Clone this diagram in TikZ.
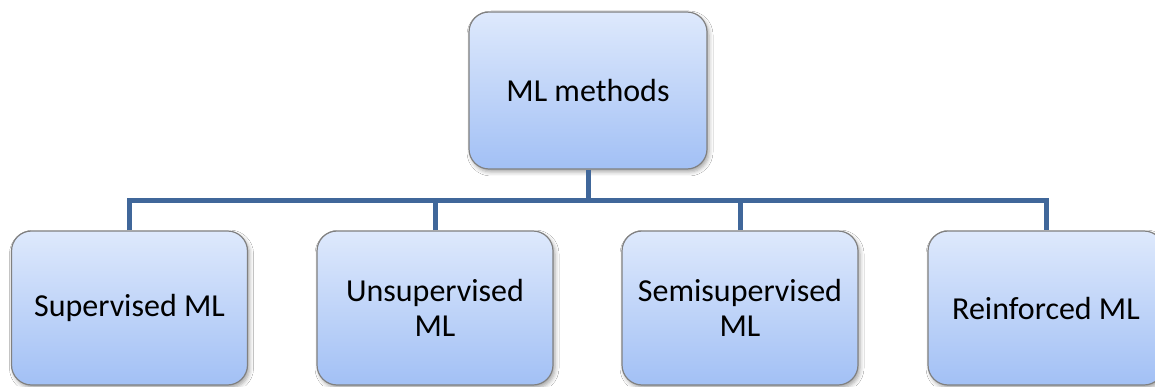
\documentclass[tikz,border=0pt]{standalone}
\usepackage{fontspec}
\setmainfont{Carlito}
\usetikzlibrary{shadows.blur}
\definecolor{boxtop}{RGB}{222,233,252}
\definecolor{boxbottom}{RGB}{162,192,245}
\definecolor{boxedge}{RGB}{128,128,128}
\definecolor{linkblue}{RGB}{64,103,154}
\tikzset{
  mlbox/.style={rectangle, rounded corners=20pt, draw=boxedge, line width=1.2pt,
    top color=boxtop, bottom color=boxbottom, inner sep=0pt, align=center,
    font=\fontsize{32}{35}\selectfont,
    blur shadow={shadow xshift=2pt, shadow yshift=-3pt, shadow blur radius=4pt, shadow opacity=35}},
  rootbox/.style={mlbox, minimum width=238pt, minimum height=157pt},
  leafbox/.style={mlbox, minimum width=236pt, minimum height=154pt},
  link/.style={draw=linkblue, line width=5pt, line join=miter}
}
\begin{document}
\begin{tikzpicture}[x=1pt, y=1pt]
  \useasboundingbox (0,0) rectangle (1155,386);
  \clip (0,0) rectangle (1155,386);
  \fill[white] (0,0) rectangle (1155,386);

  % bus level between the root and the four methods
  \coordinate (bus) at (588,186);

  \node[rootbox] (root) at (588,295.5) {ML methods};
  \node[leafbox] (sup)   at (129.5,78) {Supervised ML};
  \node[leafbox] (unsup) at (435,78)   {Unsupervised\\ML};
  \node[leafbox] (semi)  at (740,78)   {Semisupervised\\ML};
  \node[leafbox] (reinf) at (1046,78)  {Reinforced ML};

  % connectors: stem from the root, horizontal bus, drops to each method
  \draw[link] (root.south) -- (root.south |- bus);
  \draw[link] (sup.north) -- (sup.north |- bus) -- (reinf.north |- bus) -- (reinf.north);
  \draw[link] (unsup.north) -- (unsup.north |- bus);
  \draw[link] (semi.north) -- (semi.north |- bus);
\end{tikzpicture}
\end{document}
